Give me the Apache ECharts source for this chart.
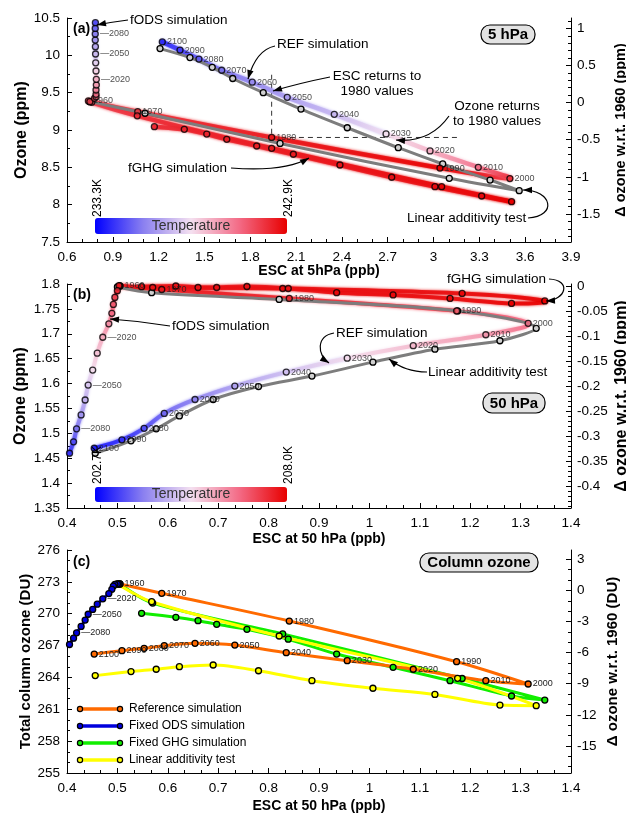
<!DOCTYPE html>
<html>
<head>
<meta charset="utf-8">
<script src="https://cdn.jsdelivr.net/npm/echarts@6/dist/echarts.min.js"></script>
<style>
html,body{margin:0;padding:0;background:#fff;}
#chart{width:626px;height:814px;}
</style>
</head>
<body>
<div id="chart"></div>
<script>
const FONT = 'Liberation Sans, Arial, sans-serif';
const years = [1960,1970,1980,1990,2000,2010,2020,2030,2040,2050,2060,2070,2080,2090,2100];

// (a) 5 hPa : ESC (ppb), ozone (ppm), temperature (K)
const escRefA  = [0.74,1.063,1.94,3.042,3.50,3.293,2.977,2.689,2.35,2.042,1.813,1.613,1.464,1.34,1.224];
const o3RefA   = [9.39,9.245,8.90,8.49,8.35,8.50,8.72,8.947,9.21,9.438,9.64,9.80,9.95,10.07,10.18];
const tRefA    = [241.5,241.9,242.4,242.9,241.9,240.5,239.1,238.1,237.1,236.5,236.0,235.5,235.0,234.5,234.1];
const escFghgA = [0.762,1.06,1.94,3.053,3.511,3.315,3.009,2.726,2.387,2.082,1.842,1.646,1.515,1.368,1.172];
const o3FghgA  = [9.37,9.19,8.755,8.241,8.04,8.116,8.241,8.367,8.531,8.675,8.786,8.875,8.946,9.009,9.044];
const tFghgA   = [241.5,241.9,242.4,242.9,242.9,242.7,242.6,242.5,242.4,242.3,242.2,242.2,242.1,242.1,242.0];
const escFodsA = [0.75,0.78,0.79,0.79,0.79,0.792,0.792,0.79,0.788,0.787,0.786,0.785,0.785,0.785,0.786];
const o3FodsA  = [9.38,9.424,9.446,9.478,9.536,9.603,9.679,9.79,9.90,10.018,10.116,10.205,10.286,10.36,10.437];
const tFodsA   = [241.5,241.2,240.8,240.4,240.0,239.5,239.1,238.4,237.7,237.1,236.7,236.2,235.7,235.2,234.7];
const escLinA  = [0.75,1.111,1.995,3.103,3.561,3.37,3.06,2.769,2.435,2.132,1.885,1.685,1.551,1.405,1.209];
const o3LinA   = [9.38,9.224,8.82,8.353,8.187,8.33,8.545,8.763,9.03,9.28,9.50,9.69,9.84,9.97,10.09];
const dashTopA = 9.74, dashRightA = 3.17;   // extent of the 1980 guide lines
const tRangeA = [233.3, 242.9];

// (b) 50 hPa
const escRefB  = [0.505,0.588,0.841,1.173,1.315,1.231,1.087,0.956,0.835,0.733,0.654,0.593,0.553,0.509,0.454];
const o3RefB   = [1.796,1.789,1.771,1.746,1.721,1.698,1.676,1.651,1.623,1.595,1.568,1.540,1.510,1.487,1.470];
const tRefB    = [207.7,207.7,207.6,207.2,206.7,206.2,205.8,205.4,204.9,204.5,204.1,203.8,203.5,203.2,203.0];
const escFghgB = [0.505,0.570,0.828,1.184,1.348,1.282,1.160,1.047,0.935,0.839,0.757,0.697,0.660,0.616,0.548];
const o3FghgB  = [1.796,1.793,1.791,1.781,1.766,1.761,1.771,1.778,1.7825,1.791,1.795,1.793,1.793,1.796,1.7946];
const tFghgB   = [207.7,207.8,207.9,207.9,208.0,208.0,207.9,207.9,207.9,207.8,207.8,207.8,207.8,207.8,207.8];
const escFodsB = [0.503,0.500,0.495,0.492,0.489,0.483,0.471,0.460,0.451,0.442,0.436,0.428,0.419,0.413,0.405];
const o3FodsB  = [1.7966,1.7866,1.773,1.759,1.741,1.720,1.693,1.661,1.627,1.597,1.567,1.537,1.509,1.483,1.460];
const tFodsB   = [207.7,207.5,207.2,206.9,206.7,206.3,206.0,205.7,205.4,205.0,204.7,204.3,203.9,203.5,203.2];
const escLinB  = [0.50,0.568,0.821,1.175,1.331,1.259,1.130,1.007,0.886,0.780,0.690,0.623,0.577,0.527,0.456];
const o3LinB   = [1.794,1.7825,1.769,1.746,1.711,1.686,1.669,1.643,1.615,1.594,1.568,1.535,1.509,1.485,1.460];
const tRangeB = [202.7, 208.0];

// (c) column ozone (DU), same ESC at 50 hPa on x
const colRef  = [272.8,271.92,269.31,265.48,263.38,263.69,264.77,265.58,266.33,267.05,267.21,266.99,266.74,266.52,266.2];
const colFods = [272.8,272.8,272.75,272.6,272.3,271.9,271.4,270.9,270.4,269.95,269.4,268.8,268.2,267.7,267.1];
const colFghg = [272.8,271.0,268.1,263.9,261.87,262.25,263.69,264.95,266.2,267.6,268.53,269.0,269.34,269.66,270.04];
const colLin  = [272.8,271.13,267.9,263.92,261.34,261.4,262.4,262.98,263.69,264.63,265.17,265.01,264.77,264.55,264.17];

const fodsLabelYears = [2020, 2050, 2080];

const tempColors = ['#0000ff','#8a7ff0','#f4e0f0','#f36b86','#e80000'];
const refColor = '#ff6a00', fodsColor = '#0000dd', fghgColor = '#11ee00', linColor = '#ffff00';

const tempRgb = tempColors.map(h => [1,3,5].map(k => parseInt(h.slice(k,k+2),16)));
function tempColor(f){
    f = Math.max(0, Math.min(1, f));
    const s = f * (tempRgb.length - 1);
    const i = Math.min(Math.floor(s), tempRgb.length - 2);
    const u = s - i, a = tempRgb[i], b = tempRgb[i+1];
    return 'rgb(' + [0,1,2].map(k => Math.round(a[k] + (b[k]-a[k]) * u)).join(',') + ')';
}

// temperature coloured curve: one bezier piece per pair of points
function tempCurve(xs, ys, ts, range, grid, yIdx, width){
    const data = [];
    for (let i = 0; i < xs.length - 1; i++) {
        const a = Math.max(i-1, 0), d = Math.min(i+2, xs.length-1);
        data.push([xs[a],ys[a],xs[i],ys[i],xs[i+1],ys[i+1],xs[d],ys[d],ts[i],ts[i+1]]);
    }
    return {
        type: 'custom', xAxisIndex: grid, yAxisIndex: yIdx, z: 2, silent: true,
        renderItem: function(params, api){
            const p0 = api.coord([api.value(0), api.value(1)]);
            const p1 = api.coord([api.value(2), api.value(3)]);
            const p2 = api.coord([api.value(4), api.value(5)]);
            const p3 = api.coord([api.value(6), api.value(7)]);
            const c1 = tempColor((api.value(8)-range[0])/(range[1]-range[0]));
            const c2 = tempColor((api.value(9)-range[0])/(range[1]-range[0]));
            const k = 1/6;
            return {
                type: 'bezierCurve',
                shape: {
                    x1: p1[0], y1: p1[1], x2: p2[0], y2: p2[1],
                    cpx1: p1[0] + (p2[0]-p0[0])*k, cpy1: p1[1] + (p2[1]-p0[1])*k,
                    cpx2: p2[0] - (p3[0]-p1[0])*k, cpy2: p2[1] - (p3[1]-p1[1])*k
                },
                style: {
                    fill: 'none', lineWidth: width, lineCap: 'round', opacity: 0.85,
                    stroke: new echarts.graphic.LinearGradient(p1[0], p1[1], p2[0]+0.01, p2[1]+0.01,
                        [{offset: 0, color: c1}, {offset: 1, color: c2}], true),
                    shadowBlur: 3, shadowColor: c2
                }
            };
        },
        data: data
    };
}

function pointSeries(xs, ys, ts, grid, yIdx, labelFn){
    return {
        type: 'scatter', xAxisIndex: grid, yAxisIndex: yIdx, z: 5, symbol: 'circle', symbolSize: 6,
        itemStyle: {borderColor: '#000', borderWidth: 1.3},
        label: labelFn ? {show: true, position: 'right', distance: 1, fontSize: 9, color: '#222',
            fontFamily: FONT, formatter: p => labelFn(p.dataIndex)} : {show: false},
        data: xs.map((x, i) => [x, ys[i], ts[i]])
    };
}

function grayLine(xs, ys, grid, yIdx){
    return {
        type: 'line', xAxisIndex: grid, yAxisIndex: yIdx, z: 3, smooth: 0.3,
        symbol: 'circle', symbolSize: 6,
        lineStyle: {color: '#7d7d7d', width: 3},
        itemStyle: {color: '#d0d0d0', borderColor: '#000', borderWidth: 1.3},
        data: xs.map((x, i) => [x, ys[i]])
    };
}

function colLine(xs, ys, color, labelFn){
    return {
        type: 'line', xAxisIndex: 2, yAxisIndex: 6, z: 3, smooth: 0.3,
        symbol: 'circle', symbolSize: 6,
        lineStyle: {color: color, width: 3},
        itemStyle: {color: color, borderColor: '#000', borderWidth: 1.3},
        label: labelFn ? {show: true, position: 'right', distance: 1, fontSize: 9, color: '#222',
            fontFamily: FONT, formatter: p => labelFn(p.dataIndex)} : {show: false},
        data: xs.map((x, i) => [x, ys[i]])
    };
}

const allYears = i => String(years[i]);
const leaderYears = i => fodsLabelYears.indexOf(years[i]) >= 0 ? '—' + years[i] : '';

// axes
const tickStyle = {color: '#000', width: 1};
const labelStyle = {fontSize: 13.5, color: '#000', fontFamily: FONT};
function nameStyle(size){
    return {fontSize: size, fontWeight: 'bold', color: '#000', fontFamily: FONT};
}

function xAxis(grid, min, max, interval, name, gap){
    return {
        type: 'value', gridIndex: grid, min: min, max: max, interval: interval,
        name: name, nameLocation: 'middle', nameGap: gap, nameMoveOverlap: false, nameTextStyle: nameStyle(14),
        axisLine: {onZero: false, lineStyle: tickStyle},
        axisTick: {inside: true, length: 5, lineStyle: tickStyle},
        minorTick: {show: true, splitNumber: 3, length: 3, lineStyle: tickStyle},
        axisLabel: Object.assign({margin: 8}, labelStyle),
        splitLine: {show: false}, minorSplitLine: {show: false}
    };
}
function leftAxis(grid, min, max, interval, minorSplit, name, gap, size){
    return {
        type: 'value', gridIndex: grid, position: 'left', min: min, max: max, interval: interval,
        name: name, nameLocation: 'middle', nameGap: gap, nameRotate: 90, nameMoveOverlap: false,
        nameTextStyle: nameStyle(size),
        axisLine: {show: true, onZero: false, lineStyle: tickStyle},
        axisTick: {inside: true, length: 5, lineStyle: tickStyle},
        minorTick: {show: true, splitNumber: minorSplit, length: 3, lineStyle: tickStyle},
        axisLabel: Object.assign({margin: 7}, labelStyle),
        splitLine: {show: false}, minorSplitLine: {show: false}
    };
}
function rightAxes(grid, min, max, labels, minors, name, gap, size){
    return [{
        type: 'value', gridIndex: grid, position: 'right', min: min, max: max,
        name: name, nameLocation: 'middle', nameGap: gap, nameRotate: 90, nameMoveOverlap: false,
        nameTextStyle: nameStyle(size),
        axisLine: {show: true, onZero: false, lineStyle: tickStyle},
        axisTick: {show: true, inside: true, length: 5, customValues: labels, lineStyle: tickStyle},
        axisLabel: Object.assign({customValues: labels, margin: 6}, labelStyle),
        splitLine: {show: false}
    }, {
        type: 'value', gridIndex: grid, position: 'right', min: min, max: max,
        axisLine: {show: false},
        axisTick: {show: true, inside: true, length: 3, customValues: minors, lineStyle: tickStyle},
        axisLabel: {show: false},
        splitLine: {show: false}
    }];
}
function steps(from, to, step, scale){
    const out = [];
    for (let v = from; v <= to; v += step) out.push(Math.round(v) / scale);
    return out;
}

// annotations
function txt(s, x, y, style, extra){
    return Object.assign({type: 'text', x: x, y: y, z: 100, silent: true,
        style: Object.assign({text: s, fontSize: 13.5, fontFamily: FONT, fill: '#000',
            align: 'left', verticalAlign: 'middle'}, style || {})}, extra || {});
}
function arrow(p){
    let shape, tx, ty, x2, y2;
    if (p.length === 6) {
        shape = {x1: p[0], y1: p[1], cpx1: p[2], cpy1: p[3], x2: p[4], y2: p[5]};
        tx = p[2]; ty = p[3]; x2 = p[4]; y2 = p[5];
    } else {
        shape = {x1: p[0], y1: p[1], cpx1: p[2], cpy1: p[3], cpx2: p[4], cpy2: p[5], x2: p[6], y2: p[7]};
        tx = p[4]; ty = p[5]; x2 = p[6]; y2 = p[7];
    }
    const ang = Math.atan2(y2 - ty, x2 - tx), c = Math.cos(ang), s = Math.sin(ang);
    const bx = x2 - 9*c, by = y2 - 9*s;
    return [
        {type: 'bezierCurve', z: 100, silent: true, shape: shape, style: {stroke: '#000', lineWidth: 1.2, fill: 'none'}},
        {type: 'polygon', z: 100, silent: true,
         shape: {points: [[x2, y2], [bx + 3.2*s, by - 3.2*c], [bx - 3.2*s, by + 3.2*c]]}, style: {fill: '#000'}}
    ];
}
function box(s, x, y, w, h){
    return [
        {type: 'rect', z: 99, silent: true, shape: {x: x, y: y, width: w, height: h, r: 9},
         style: {fill: '#e3e3e3', stroke: '#000', lineWidth: 1.2}},
        txt(s, x + w/2, y + h/2 + 0.5, {align: 'center', fontSize: 15, fontWeight: 'bold'})
    ];
}

const legendItems = [['Reference simulation', refColor], ['Fixed ODS simulation', fodsColor],
                     ['Fixed GHG simulation', fghgColor], ['Linear additivity test', linColor]];
const legendEls = [];
legendItems.forEach((it, i) => {
    const y = 709 + i * 17;
    legendEls.push({type: 'line', z: 100, silent: true, shape: {x1: 80, y1: y, x2: 120, y2: y},
        style: {stroke: it[1], lineWidth: 3.5}});
    [80, 120].forEach(cx => legendEls.push({type: 'circle', z: 101, silent: true,
        shape: {cx: cx, cy: y, r: 2.6}, style: {fill: it[1], stroke: '#000', lineWidth: 1.2}}));
    legendEls.push(txt(it[0], 129, y, {fontSize: 12}));
});

const rot = {rotation: Math.PI / 2};
const graphicEls = [].concat(
    txt('(a)', 73, 29, {fontWeight: 'bold', fontSize: 14}),
    txt('(b)', 73, 295, {fontWeight: 'bold', fontSize: 14}),
    txt('(c)', 73, 562, {fontWeight: 'bold', fontSize: 14}),
    box('5 hPa', 481, 25, 54, 19),
    box('50 hPa', 483, 393, 62, 20),
    box('Column ozone', 420, 553, 118, 19),
    // panel (a)
    txt('fODS simulation', 130, 20), arrow([128, 20, 112, 22, 97, 25]),
    txt('REF simulation', 277, 44), arrow([275, 46, 256, 50, 248, 79]),
    txt('ESC returns to', 377, 76, {align: 'center'}), txt('1980 values', 377, 91, {align: 'center'}),
    arrow([330, 77, 300, 83, 273, 91]),
    txt('Ozone returns', 497, 106, {align: 'center'}), txt('to 1980 values', 497, 121, {align: 'center'}),
    arrow([449, 116, 430, 143, 396, 140]),
    txt('fGHG simulation', 128, 168), arrow([231, 168, 285, 172, 309, 158]),
    txt('Linear additivity test', 407, 218), arrow([528, 218, 558, 216, 552, 190, 523, 190]),
    txt('Temperature', 191, 226, {align: 'center', fontSize: 14, fill: '#333'}),
    txt('233.3K', 97.5, 217, {fontSize: 12}, rot), txt('242.9K', 288.5, 217, {fontSize: 12}, rot),
    // panel (b)
    txt('fODS simulation', 172, 326), arrow([170, 326, 140, 321, 110, 319]),
    txt('fGHG simulation', 447, 279), arrow([549, 279, 572, 280, 566, 300, 546, 301]),
    txt('REF simulation', 336, 333), arrow([334, 333, 316, 336, 317, 355, 329, 363]),
    txt('Linear additivity test', 428, 372), arrow([427, 372, 405, 372, 389, 359]),
    txt('Temperature', 191, 494, {align: 'center', fontSize: 14, fill: '#333'}),
    txt('202.7K', 97.5, 484, {fontSize: 12}, rot), txt('208.0K', 289, 484, {fontSize: 12}, rot),
    legendEls
);

// series
const series = [];
const ptsA = [], ptsB = [];
series.push(tempCurve(escRefA, o3RefA, tRefA, tRangeA, 0, 0, 4.5));
series.push(tempCurve(escFghgA, o3FghgA, tFghgA, tRangeA, 0, 0, 4.5));
series.push(tempCurve(escFodsA, o3FodsA, tFodsA, tRangeA, 0, 0, 4));
series.push(grayLine(escLinA, o3LinA, 0, 0));
series.push({
    type: 'line', xAxisIndex: 0, yAxisIndex: 0, z: 1, symbol: 'none',
    lineStyle: {color: '#333', width: 1, type: [5, 4]},
    data: [[escRefA[2], dashTopA], [escRefA[2], o3RefA[2]], [dashRightA, o3RefA[2]]]
});
ptsA.push(series.length); series.push(pointSeries(escRefA, o3RefA, tRefA, 0, 0, allYears));
ptsA.push(series.length); series.push(pointSeries(escFghgA, o3FghgA, tFghgA, 0, 0, null));
ptsA.push(series.length); series.push(pointSeries(escFodsA, o3FodsA, tFodsA, 0, 0, leaderYears));

series.push(tempCurve(escRefB, o3RefB, tRefB, tRangeB, 1, 3, 4));
series.push(tempCurve(escFghgB, o3FghgB, tFghgB, tRangeB, 1, 3, 4));
series.push(tempCurve(escFodsB, o3FodsB, tFodsB, tRangeB, 1, 3, 4));
series.push(grayLine(escLinB, o3LinB, 1, 3));
ptsB.push(series.length); series.push(pointSeries(escRefB, o3RefB, tRefB, 1, 3, allYears));
ptsB.push(series.length); series.push(pointSeries(escFghgB, o3FghgB, tFghgB, 1, 3, null));
ptsB.push(series.length); series.push(pointSeries(escFodsB, o3FodsB, tFodsB, 1, 3, leaderYears));

series.push(colLine(escFghgB, colFghg, fghgColor, null));
series.push(colLine(escLinB, colLin, linColor, null));
series.push(colLine(escRefB, colRef, refColor, allYears));
series.push(colLine(escFodsB, colFods, fodsColor, leaderYears));

const option = {
    backgroundColor: '#fff',
    animation: false,
    textStyle: {fontFamily: FONT},
    grid: [
        {left: 67, top: 18, width: 504, height: 224, outerBoundsMode: 'none'},
        {left: 67, top: 284, width: 504, height: 224, outerBoundsMode: 'none'},
        {left: 67, top: 550, width: 504, height: 223, outerBoundsMode: 'none'}
    ],
    xAxis: [
        xAxis(0, 0.6, 3.9, 0.3, 'ESC at 5hPa (ppb)', 22),
        xAxis(1, 0.4, 1.4, 0.1, 'ESC at 50 hPa (ppb)', 24),
        xAxis(2, 0.4, 1.4, 0.1, 'ESC at 50 hPa (ppb)', 26)
    ],
    yAxis: [].concat(
        leftAxis(0, 7.5, 10.5, 0.5, 2, 'Ozone (ppm)', 37, 16),
        rightAxes(0, -1.877, 1.139, [-1.5, -1, -0.5, 0, 0.5, 1], steps(-18, 11, 1, 10),
            'Δ ozone w.r.t. 1960 (ppm)', 42, 14.5),
        leftAxis(1, 1.35, 1.8, 0.05, 2, 'Ozone (ppm)', 38, 16),
        rightAxes(1, -0.4426, 0.0054, [-0.4, -0.35, -0.3, -0.25, -0.2, -0.15, -0.1, -0.05, 0],
            steps(-44, 0, 1, 100), 'Δ ozone w.r.t. 1960 (ppm)', 43, 16),
        leftAxis(2, 255, 276, 3, 3, 'Total column ozone (DU)', 34, 15),
        rightAxes(2, -17.61, 3.9, [-15, -12, -9, -6, -3, 0, 3], steps(-17, 3, 1, 1),
            'Δ ozone w.r.t. 1960 (DU)', 34, 15)
    ),
    visualMap: [
        {type: 'continuous', seriesIndex: ptsA, dimension: 2, min: tRangeA[0], max: tRangeA[1],
         orient: 'horizontal', left: 95, top: 218, itemWidth: 16, itemHeight: 192, padding: 0,
         calculable: false, hoverLink: false, inRange: {color: tempColors}},
        {type: 'continuous', seriesIndex: ptsB, dimension: 2, min: tRangeB[0], max: tRangeB[1],
         orient: 'horizontal', left: 95, top: 487, itemWidth: 15, itemHeight: 192, padding: 0,
         calculable: false, hoverLink: false, inRange: {color: tempColors}}
    ],
    graphic: graphicEls,
    series: series
};

const chart = echarts.init(document.getElementById('chart'), null, {renderer: 'canvas'});
chart.setOption(option);
</script>
</body>
</html>
